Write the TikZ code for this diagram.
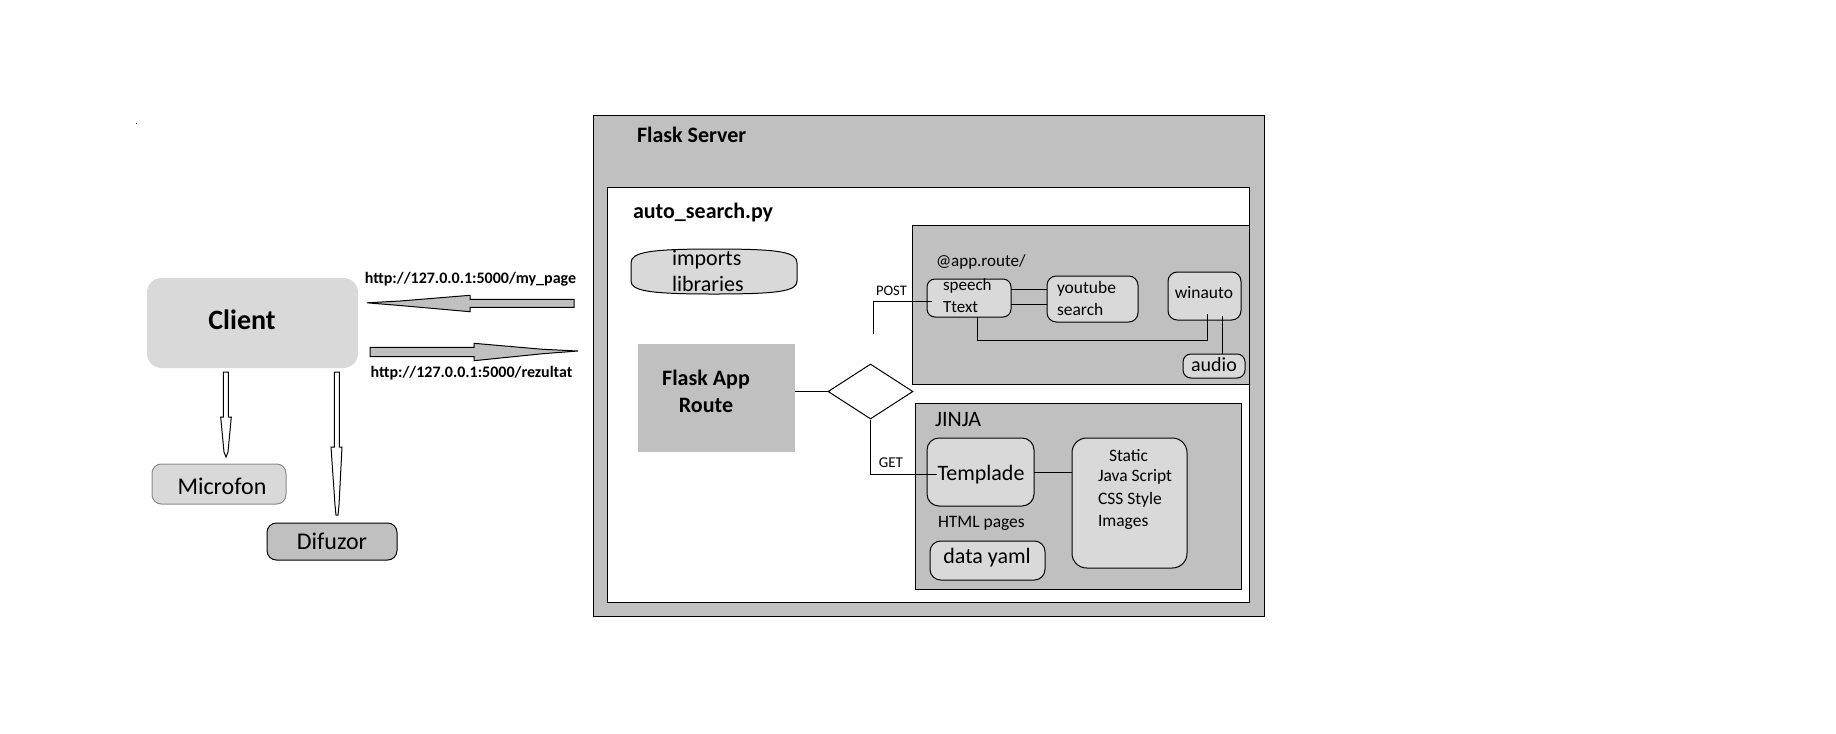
\documentclass[tikz,border=0pt]{standalone}
\usepackage{fontspec}
\setmainfont{Carlito}
\usetikzlibrary{fit,shapes.geometric}
\definecolor{lgray}{HTML}{D9D9D9}
\definecolor{dgray}{HTML}{C0C0C0}
\newcommand\fs[2]{\fontsize{#1pt}{#2pt}\selectfont}
\tikzset{
  frame/.style={inner sep=0pt, outer sep=0pt, line width=0.75pt},
  lbox/.style={frame, draw=black, fill=lgray},
  dbox/.style={frame, draw=black, fill=dgray},
  txt/.style={inner sep=0pt, outer sep=0pt, text=black},
  conn/.style={draw=black, line width=0.75pt},
  blockarrow/.style={draw=black, fill=dgray, line width=0.75pt, line join=miter},
  thinarrow/.style={draw=black, fill=white, line width=0.75pt, line join=miter},
}
\begin{document}
\begin{tikzpicture}[x=0.75pt,y=-0.75pt]
\useasboundingbox (0,0) rectangle (1836,733);
\fill[white] (0,0) rectangle (1836,733);
\fill[black] (135.5,122.5) rectangle (136.5,123.5);

% ---------------- server containers
\node[dbox, fit={(593,115)(1264,616)}] (server) {};
\node[frame, draw=black, fill=white, fit={(607,187)(1249,602)}] (autosearch) {};
\node[dbox, fit={(912,225)(1249,384)}] (routebox) {};
\node[dbox, fit={(915,403)(1241,589)}] (jinja) {};
\node[frame, fill=dgray, fit={(638,344)(795,452)}] (flaskapp) {};
\node[diamond, draw=black, fill=white, line width=0.75pt, inner sep=0pt,
      minimum width=63.75pt, minimum height=41.25pt] (decision) at (870.5,391.5) {};

% imports libraries (barrel)
\draw[line width=0.75pt, fill=lgray]
  (631,263) -- (631,281)
  .. controls (631,291) and (650,294) .. (714,294)
  .. controls (780,294) and (797,291) .. (797,281)
  -- (797,263)
  .. controls (797,252) and (780,249) .. (714,249)
  .. controls (650,249) and (631,252) .. (631,263) -- cycle;
\node[frame, fit={(631,249)(797,294)}] (imports) {};

% ---------------- client side
\node[frame, fill=lgray, rounded corners=11pt, fit={(147,278)(358,368)}] (client) {};
\node[frame, fill=lgray, draw=black!45, rounded corners=7pt, fit={(152,464)(286,504)}] (microfon) {};
\node[dbox, rounded corners=7pt, fit={(267,523)(397,560)}] (difuzor) {};

% ---------------- route boxes
\node[lbox, rounded corners=6pt, fit={(927,279)(1011,317)}] (speech) {};
\node[lbox, rounded corners=7pt, fit={(1047,276)(1138,322)}] (youtube) {};
\node[lbox, rounded corners=7pt, fit={(1168,272)(1241,320)}] (winauto) {};
\node[lbox, rounded corners=6pt, fit={(1183,354)(1245,378)}] (audio) {};

% ---------------- jinja boxes
\node[lbox, rounded corners=9pt, fit={(927,438)(1034,506)}] (template) {};
\node[lbox, rounded corners=11pt, fit={(1072,438)(1187,568)}] (static) {};
\node[lbox, rounded corners=8pt, fit={(930,541)(1045,580)}] (datayaml) {};

% ---------------- block arrows
\draw[blockarrow] (574,299.3) -- (470,299.3) -- (470,295.3) -- (400,301) -- (367,302.8)
  -- (400,305.5) -- (470,311.7) -- (470,307.3) -- (574,307.3) -- cycle;
\draw[blockarrow] (370,347.3) -- (474,347.3) -- (474,343.3) -- (543,349.3) -- (578,351)
  -- (543,353.7) -- (474,360.7) -- (474,356.7) -- (370,356.7) -- cycle;
\draw[thinarrow] (223.3,372) -- (228.3,372) -- (228.3,417) -- (231.3,417) -- (228,452)
  -- (226,457) -- (224,452) -- (220.7,417) -- (223.3,417) -- cycle;
\draw[thinarrow] (334.3,372) -- (339.3,372) -- (339.3,447) -- (342,447) -- (339,505)
  -- (338,515) -- (336,515) -- (335,505) -- (331,447) -- (334.3,447) -- cycle;

% ---------------- connectors
\coordinate (postfoot) at (873,334);
\coordinate (postin) at (932,301);
\coordinate (getin) at (937,474);
\draw[conn] (flaskapp.east |- decision.west) -- (decision.west);
\draw[conn] (postfoot) |- (postin);
\draw[conn] (decision.south) |- (getin);
\draw[conn] (template.east) -- (template.east -| static.west);
\draw[conn] (speech.east |- 0,289) -- (youtube.west |- 0,289);
\draw[conn] (speech.east |- 0,304) -- (youtube.west |- 0,304);
\draw[conn] (speech.south -| 977,0) -- (977,340) -- (1207,340) -- (winauto.south -| 1207,0) -- (1207,314);
\draw[conn] (audio.north -| 1222,0) -- (1222,316);

% ---------------- texts
\node[txt, anchor=west, font=\fs{16.5}{19.8}\bfseries] (lserver) at (637,135) {Flask Server};
\node[txt, anchor=west, font=\fs{16.5}{19.8}\bfseries] (lauto) at (633,213) {auto\_search.py};
\node[txt, anchor=west, align=left, font=\fs{16.5}{19.5}] (limports) at (672,271) {imports\\libraries};
\node[txt, align=center, font=\fs{16.5}{20.25}\bfseries] (lflaskapp) at (706,391.5) {Flask App\\Route};
\node[txt, font=\fs{21}{25}\bfseries] (lclient) at (242,320) {Client};
\node[txt, font=\fs{12}{14}\bfseries] (lurlA) at (470.5,279) {http://127.0.0.1:5000/my\_page};
\node[txt, font=\fs{12}{14}\bfseries] (lurlB) at (471.5,373) {http://127.0.0.1:5000/rezultat};
\node[txt, font=\fs{18}{21}] (lmicrofon) at (222,486) {Microfon};
\node[txt, font=\fs{18}{21}] (ldifuzor) at (332,541) {Difuzor};
\node[txt, font=\fs{10.9}{13}] (lpost) at (891.5,291) {POST};
\node[txt, font=\fs{11.25}{13}] (lget) at (891,463) {GET};
\node[txt, anchor=west, font=\fs{12.75}{15}] (lapp) at (936,262) {@app.route/};
\node[txt, anchor=west, align=left, font=\fs{12.75}{16.5}] (lspeech) at (943,296) {speech\\Ttext};
\node[txt, anchor=west, align=left, font=\fs{13.1}{16.5}] (lyoutube) at (1057,298) {youtube\\search};
\node[txt, font=\fs{13.1}{16}] (lwinauto) at (1204,293) {winauto};
\node[txt, font=\fs{15}{18}] (laudio) at (1214,365) {audio};
\node[txt, anchor=west, font=\fs{16.5}{19.8}] (ljinja) at (935,420) {JINJA};
\node[txt, font=\fs{16.5}{19.8}] (ltemplate) at (981,475) {Templade};
\node[txt, anchor=west, font=\fs{13.1}{16}] (lhtml) at (938,523) {HTML pages};
\node[txt, font=\fs{16.5}{19.8}] (ldata) at (987,558) {data yaml};
\node[txt, anchor=west, font=\fs{13.1}{16}] (lstatic) at (1109,456) {Static};
\node[txt, anchor=west, align=left, font=\fs{13.1}{16.9}] (lassets) at (1098,499.5) {Java Script\\CSS Style\\Images};
\end{tikzpicture}
\end{document}
